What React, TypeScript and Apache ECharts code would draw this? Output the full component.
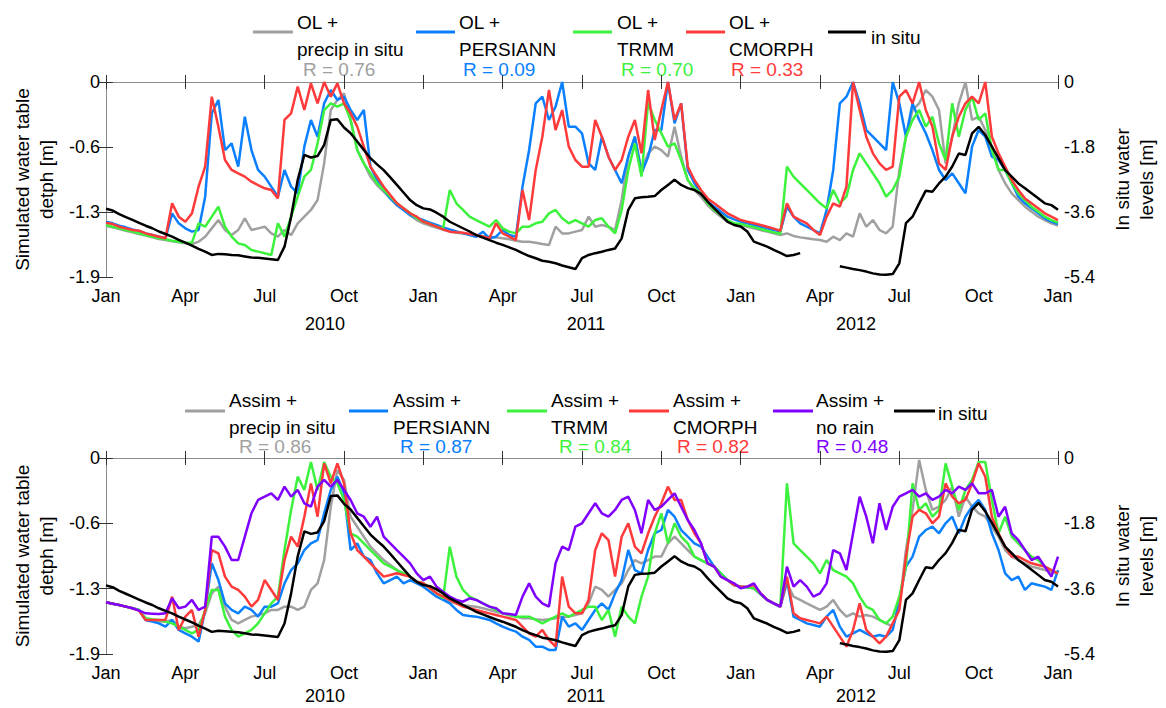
import React, { useEffect, useRef } from "react";
import * as echarts from "echarts";

// time in months since Jan 2010 (quarter-month samples)
const MONTHS = [
  0,0.25,0.5,0.75, 1,1.25,1.5,1.75, 2,2.25,2.5,2.75, 3,3.25,3.5,3.75, 4,4.25,4.5,4.75, 5,5.25,5.5,5.75,
  6,6.25,6.5,6.75, 7,7.25,7.5,7.75, 8,8.25,8.5,8.75, 9,9.25,9.5,9.75, 10,10.25,10.5,10.75, 11,11.25,11.5,11.75,
  12,12.25,12.5,12.75, 13,13.25,13.5,13.75, 14,14.25,14.5,14.75, 15,15.25,15.5,15.75, 16,16.25,16.5,16.75, 17,17.25,17.5,17.75,
  18,18.25,18.5,18.75, 19,19.25,19.5,19.75, 20,20.25,20.5,20.75, 21,21.25,21.5,21.75, 22,22.25,22.5,22.75, 23,23.25,23.5,23.75,
  24,24.25,24.5,24.75, 25,25.25,25.5,25.75, 26,26.25,26.5,26.75, 27,27.25,27.5,27.75, 28,28.25,28.5,28.75, 29,29.25,29.5,29.75,
  30,30.25,30.5,30.75, 31,31.25,31.5,31.75, 32,32.25,32.5,32.75, 33,33.25,33.5,33.75, 34,34.25,34.5,34.75, 35,35.25,35.5,35.75, 36,
];
const MONTH_TICKS = ["Jan", "Apr", "Jul", "Oct"];
const YEARS = ["2010", "2011", "2012"];

// In situ water levels [m] (right axis)
const IN_SITU = [
  -3.51,-3.56,-3.66,-3.74, -3.82,-3.9,-3.98,-4.05, -4.14,-4.21,-4.28,-4.37, -4.45,-4.53,-4.62,-4.7, -4.79,-4.76,-4.77,-4.79, -4.8,-4.83,-4.86,-4.87,
  -4.89,-4.91,-4.93,-4.56, -3.73,-2.71,-2.02,-2.09, -2.05,-1.74,-1.05,-1.03, -1.26,-1.42,-1.65,-1.88, -2.11,-2.28,-2.44,-2.64, -2.85,-3.06,-3.27,-3.41,
  -3.5,-3.53,-3.62,-3.73, -3.87,-3.96,-4.05,-4.14, -4.24,-4.31,-4.38,-4.45, -4.51,-4.58,-4.65,-4.74, -4.82,-4.88,-4.95,-4.98, -5.02,-5.08,-5.13,-5.18,
  -4.88,-4.79,-4.74,-4.7, -4.65,-4.61,-4.33,-3.54, -3.22,-3.19,-3.18,-3.16, -2.99,-2.85,-2.71,-2.85, -2.94,-2.99,-3.1,-3.31, -3.5,-3.68,-3.87,-3.96,
  -4.0,-4.14,-4.42,-4.49, -4.56,-4.65,-4.73,-4.82, -4.79,-4.74,null,null, null,null,null,-5.1, -5.14,-5.18,-5.21,-5.25, -5.3,-5.33,-5.34,-5.32,
  -5.02,-3.91,-3.73,-3.36, -3.01,-3.04,-2.81,-2.62, -2.34,-1.98,-2.02,-1.42, -1.24,-1.47,-1.79,-2.11, -2.44,-2.62,-2.81,-2.94, -3.08,-3.22,-3.36,-3.41, -3.54,
];

// Open loop simulations [m] (left axis)
const OL_PRECIP = [
  -1.403,-1.416,-1.432,-1.449, -1.465,-1.481,-1.497,-1.514, -1.53,-1.54,-1.553,-1.562, -1.572,-1.579,-1.556,-1.507, -1.426,-1.345,-1.442,-1.491, -1.442,-1.328,-1.442,-1.426,
  -1.41,-1.475,-1.507,-1.442, -1.491,-1.377,-1.312,-1.247, -1.15,-0.793,-0.273,-0.175, -0.11,-0.37,-0.663,-0.793, -0.922,-1.004,-1.069,-1.134, -1.199,-1.247,-1.296,-1.345,
  -1.377,-1.4,-1.419,-1.439, -1.458,-1.468,-1.475,-1.484, -1.491,-1.5,-1.507,-1.514, -1.523,-1.533,-1.546,-1.556, -1.556,-1.566,-1.579,-1.589, -1.41,-1.475,-1.475,-1.458,
  -1.442,-1.312,-1.41,-1.393, -1.41,-1.442,-1.15,-0.728, -0.533,-0.857,-0.695,-0.63, -0.663,-0.728,-0.435,-0.728, -0.955,-1.052,-1.117,-1.199, -1.263,-1.312,-1.361,-1.387,
  -1.393,-1.41,-1.426,-1.442, -1.458,-1.475,-1.491,-1.475, -1.5,-1.514,-1.523,-1.533, -1.54,-1.556,-1.507,-1.54, -1.475,-1.507,-1.28,-1.41, -1.345,-1.442,-1.475,-1.41,
  -0.857,-0.533,-0.273,-0.208, -0.078,-0.143,-0.273,-0.793, -0.533,-0.208,0,-0.37, -0.338,-0.468,-0.63,-0.857, -0.987,-1.085,-1.15,-1.215, -1.263,-1.312,-1.345,-1.377, -1.4,
];
const OL_PERSIANN = [
  -1.361,-1.377,-1.4,-1.416, -1.436,-1.452,-1.475,-1.491, -1.507,-1.523,-1.28,-1.377, -1.426,-1.458,-1.442,-1.117, -0.305,-0.175,-0.663,-0.598, -0.825,-0.338,-0.663,-0.857,
  -0.922,-1.02,-1.117,-0.857, -1.02,-1.085,-0.63,-0.37, -0.533,-0.208,-0.078,-0.175, -0.143,-0.273,-0.37,-0.273, -0.825,-0.955,-1.052,-1.134, -1.199,-1.247,-1.296,-1.328,
  -1.345,-1.371,-1.393,-1.416, -1.436,-1.455,-1.475,-1.491, -1.507,-1.458,-1.523,-1.507, -1.442,-1.491,-1.507,-1.02, -0.663,-0.208,-0.143,-0.37, -0.24,0,-0.435,-0.435,
  -0.5,-0.793,-0.857,-0.533, -0.728,-0.857,-0.987,-0.728, -0.533,-0.89,-0.728,-0.468, -0.468,0,-0.403,-0.208, -0.857,-0.987,-1.085,-1.166, -1.215,-1.263,-1.312,-1.338,
  -1.361,-1.377,-1.393,-1.41, -1.426,-1.442,-1.458,-1.215, -1.312,-1.377,-1.41,-1.442, -1.475,-1.247,-0.857,-0.208, -0.143,0,-0.208,-0.468, -0.533,-0.598,-0.663,0,
  -0.208,-0.533,-0.208,-0.37, -0.5,-0.663,-0.857,-0.955, -0.89,-0.987,-1.085,-0.63, -0.468,-0.533,-0.728,-0.76, -0.857,-0.987,-1.117,-1.182, -1.231,-1.28,-1.328,-1.361, -1.384,
];
const OL_TRMM = [
  -1.393,-1.41,-1.426,-1.442, -1.458,-1.475,-1.491,-1.507, -1.523,-1.533,-1.546,-1.556, -1.566,-1.566,-1.377,-1.41, -1.312,-1.215,-1.41,-1.507, -1.572,-1.589,-1.637,-1.653,
  -1.669,-1.686,-1.377,-1.507, -1.312,-1.117,-0.922,-0.857, -0.598,-0.273,-0.208,-0.24, -0.208,-0.37,-0.663,-0.793, -0.89,-0.987,-1.052,-1.117, -1.182,-1.231,-1.28,-1.328,
  -1.361,-1.384,-1.41,-1.426, -1.052,-1.182,-1.247,-1.312, -1.345,-1.377,-1.41,-1.345, -1.426,-1.458,-1.475,-1.41, -1.41,-1.377,-1.361,-1.28, -1.247,-1.328,-1.377,-1.345,
  -1.377,-1.41,-1.345,-1.328, -1.41,-1.475,-1.247,-0.857, -0.598,-0.922,-0.2,-0.37, -0.5,-0.63,-0.598,-0.76, -0.955,-1.036,-1.085,-1.182, -1.247,-1.296,-1.345,-1.377,
  -1.384,-1.4,-1.416,-1.432, -1.449,-1.465,-1.481,-0.825, -0.922,-0.987,-1.052,-1.117, -1.182,-1.231,-1.052,-1.182, -1.117,-0.857,-0.695,-0.793, -0.89,-0.987,-1.117,-1.052,
  -0.922,-0.533,-0.37,-0.273, -0.435,-0.338,-0.598,-0.76, -0.208,-0.533,-0.273,-0.143, -0.37,-0.305,-0.663,-0.857, -0.857,-0.987,-1.085,-1.15, -1.215,-1.263,-1.312,-1.345, -1.371,
];
const OL_CMORPH = [
  -1.371,-1.384,-1.41,-1.426, -1.442,-1.449,-1.475,-1.491, -1.507,-1.523,-1.182,-1.312, -1.361,-1.28,-1.02,-0.825, -0.143,-0.435,-0.76,-0.857, -0.89,-0.922,-0.971,-1.004,
  -1.036,-1.052,-1.134,-0.37, -0.305,-0.045,-0.273,-0.013, -0.208,0,-0.143,-0.013, -0.208,-0.305,-0.435,-0.63, -0.825,-0.922,-1.02,-1.101, -1.182,-1.231,-1.28,-1.312,
  -1.361,-1.384,-1.41,-1.436, -1.458,-1.465,-1.468,-1.481, -1.491,-1.507,-1.523,-1.377, -1.475,-1.507,-1.54,-1.052, -1.345,-0.857,-0.533,-0.078, -0.468,-0.273,-0.63,-0.76,
  -0.825,-0.825,-0.37,-0.533, -0.728,-0.857,-0.76,-0.533, -0.37,-0.695,-0.078,-0.565, -0.273,0,-0.37,-0.208, -0.825,-0.955,-1.052,-1.134, -1.182,-1.231,-1.28,-1.312,
  -1.345,-1.361,-1.377,-1.393, -1.41,-1.429,-1.449,-1.182, -1.312,-1.345,-1.377,-1.442, -1.491,-1.312,-1.182,-1.215, -1.02,0,-0.273,-0.533, -0.695,-0.793,-0.857,-0.825,
  -0.143,-0.078,-0.208,0, -0.273,-0.435,-0.793,-0.857, -0.533,-0.338,-0.208,-0.143, -0.208,0,-0.533,-0.695, -0.825,-0.955,-1.052,-1.134, -1.182,-1.231,-1.28,-1.312, -1.345,
];

// Assimilation runs [m] (left axis)
const AS_PRECIP = [
  -1.399,-1.412,-1.425,-1.441, -1.457,-1.473,-1.57,-1.577, -1.586,-1.586,-1.57,-1.635, -1.651,-1.635,-1.619,-1.506, -1.312,-1.247,-1.441,-1.57, -1.603,-1.57,-1.538,-1.522,
  -1.506,-1.473,-1.473,-1.441, -1.441,-1.473,-1.441,-1.279, -1.215,-0.989,-0.472,-0.116, -0.213,-0.569,-0.666,-0.763, -0.859,-0.924,-0.989,-1.037, -1.086,-1.118,-1.15,-1.199,
  -1.215,-1.263,-1.312,-1.354, -1.393,-1.409,-1.425,-1.435, -1.441,-1.457,-1.473,-1.49, -1.506,-1.522,-1.538,-1.554, -1.554,-1.564,-1.57,-1.564, -1.554,-1.538,-1.538,-1.522,
  -1.506,-1.409,-1.247,-1.279, -1.344,-1.279,-1.215,-1.086, -0.989,-1.021,-0.989,-0.956, -0.956,-0.827,-0.763,-0.827, -0.892,-0.956,-0.989,-1.021, -1.053,-1.118,-1.183,-1.231,
  -1.247,-1.254,-1.263,-1.318, -1.376,-1.409,-1.441,-1.215, -1.344,-1.376,-1.409,-1.441, -1.473,-1.441,-1.376,-1.473, -1.538,-1.506,-1.538,-1.522, -1.538,-1.57,-1.603,-1.635,
  -1.441,-0.892,-0.504,-0.019, -0.31,-0.504,-0.472,-0.407, -0.278,-0.569,-0.375,-0.472, -0.536,-0.569,-0.666,-0.763, -0.892,-0.956,-0.989,-1.021, -1.053,-1.069,-1.086,-1.102, -1.118,
];
const AS_PERSIANN = [
  -1.399,-1.412,-1.425,-1.441, -1.457,-1.473,-1.57,-1.586, -1.603,-1.635,-1.57,-1.667, -1.7,-1.732,-1.78,-1.473, -1.021,-1.183,-1.409,-1.473, -1.506,-1.441,-1.473,-1.538,
  -1.441,-1.441,-1.409,-1.215, -1.086,-1.021,-0.892,-0.827, -0.795,-0.536,-0.31,-0.181, -0.342,-0.892,-0.827,-0.956, -0.989,-1.118,-1.215,-1.183, -1.15,-1.215,-1.183,-1.215,
  -1.247,-1.296,-1.344,-1.376, -1.409,-1.473,-1.522,-1.531, -1.538,-1.554,-1.57,-1.603, -1.635,-1.661,-1.683,-1.732, -1.764,-1.829,-1.829,-1.861, -1.861,-1.538,-1.635,-1.603,
  -1.667,-1.57,-1.473,-1.409, -1.473,-1.312,-1.183,-0.892, -1.086,-1.118,-0.892,-0.73, -0.698,-0.504,-0.569,-0.698, -0.763,-0.827,-0.859,-0.956, -1.053,-1.118,-1.183,-1.231,
  -1.247,-1.254,-1.263,-1.318, -1.376,-1.409,-1.441,-1.183, -1.538,-1.57,-1.603,-1.619, -1.635,-1.538,-1.473,-1.635, -1.732,-1.7,-1.667,-1.7, -1.732,-1.716,-1.732,-1.667,
  -1.376,-1.053,-0.956,-0.763, -0.698,-0.666,-0.73,-0.633, -0.569,-0.73,-0.569,-0.472, -0.407,-0.504,-0.73,-0.892, -1.118,-1.183,-1.15,-1.279, -1.215,-1.231,-1.247,-1.279, -1.086,
];
const AS_TRMM = [
  -1.399,-1.412,-1.425,-1.441, -1.457,-1.473,-1.554,-1.564, -1.57,-1.586,-1.603,-1.635, -1.667,-1.7,-1.667,-1.473, -1.279,-1.279,-1.538,-1.667, -1.732,-1.7,-1.667,-1.603,
  -1.506,-1.409,-1.344,-0.892, -0.504,-0.181,-0.31,-0.039, -0.31,-0.039,-0.181,-0.246, -0.407,-0.73,-0.763,-0.827, -0.892,-0.956,-1.021,-1.053, -1.086,-1.118,-1.15,-1.199,
  -1.215,-1.263,-1.312,-1.36, -0.86,-1.15,-1.279,-1.344, -1.376,-1.409,-1.441,-1.473, -1.506,-1.522,-1.538,-1.538, -1.538,-1.57,-1.603,-1.57, -1.538,-1.506,-1.538,-1.506,
  -1.473,-1.441,-1.441,-1.57, -1.473,-1.732,-1.441,-1.538, -1.603,-1.344,-1.15,-0.73, -0.536,-0.827,-0.633,-0.763, -0.827,-0.956,-0.989,-1.021, -1.053,-1.118,-1.183,-1.231,
  -1.247,-1.254,-1.263,-1.318, -1.376,-1.409,-1.441,-0.246, -0.827,-0.892,-0.956,-1.021, -1.118,-0.989,-1.086,-1.118, -1.15,-1.215,-1.344,-1.441, -1.473,-1.57,-1.603,-1.538,
  -1.344,-1.053,-0.246,-0.504, -0.439,-0.569,-0.504,-0.052, -0.278,-0.504,-0.31,-0.213, -0.039,-0.039,-0.407,-0.73, -0.569,-0.763,-0.827,-0.892, -0.956,-0.989,-1.053,-1.086, -1.118,
];
const AS_CMORPH = [
  -1.399,-1.412,-1.425,-1.441, -1.457,-1.48,-1.57,-1.57, -1.57,-1.57,-1.344,-1.667, -1.538,-1.473,-1.732,-1.473, -0.892,-0.924,-1.15,-1.247, -1.279,-1.344,-1.441,-1.376,
  -1.183,-1.279,-1.376,-0.989, -0.763,-0.859,-0.569,-0.246, -0.569,-0.052,-0.246,-0.052, -0.246,-0.73,-0.892,-0.956, -1.021,-1.086,-1.15,-1.134, -1.118,-1.134,-1.15,-1.199,
  -1.215,-1.263,-1.312,-1.344, -1.376,-1.409,-1.441,-1.457, -1.473,-1.49,-1.506,-1.522, -1.538,-1.554,-1.57,-1.635, -1.7,-1.732,-1.667,-1.764, -1.829,-1.15,-1.441,-1.506,
  -1.506,-1.376,-0.892,-0.73, -0.795,-1.15,-0.763,-0.633, -0.859,-0.924,-0.73,-0.569, -0.439,-0.278,-0.407,-0.407, -0.601,-0.73,-0.827,-1.021, -1.053,-1.15,-1.183,-1.231,
  -1.247,-1.247,-1.231,-1.312, -1.376,-1.409,-1.441,-1.15, -1.506,-1.554,-1.57,-1.586, -1.603,-1.538,-1.635,-1.732, -1.829,-1.667,-1.409,-1.667, -1.732,-1.796,-1.732,-1.603,
  -1.473,-0.956,-0.569,-0.504, -0.536,-0.633,-0.569,-0.246, -0.375,-0.439,-0.407,-0.246, -0.052,-0.181,-0.569,-0.73, -0.859,-0.956,-0.956,-0.989, -1.021,-1.037,-1.053,-1.086, -1.118,
];
const AS_NORAIN = [
  -1.399,-1.412,-1.425,-1.441, -1.457,-1.48,-1.506,-1.509, -1.512,-1.506,-1.36,-1.457, -1.441,-1.376,-1.473,-1.441, -0.763,-0.763,-0.859,-0.989, -0.989,-0.763,-0.536,-0.407,
  -0.375,-0.342,-0.407,-0.278, -0.375,-0.31,-0.439,-0.472, -0.278,-0.213,-0.278,-0.213, -0.31,-0.407,-0.536,-0.569, -0.666,-0.569,-0.763,-0.827, -0.892,-0.956,-1.021,-1.118,
  -1.183,-1.15,-1.247,-1.296, -1.344,-1.376,-1.393,-1.36, -1.376,-1.409,-1.441,-1.457, -1.506,-1.512,-1.522,-1.344, -1.215,-1.344,-1.409,-1.441, -1.021,-0.859,-0.892,-0.666,
  -0.633,-0.536,-0.439,-0.536, -0.569,-0.504,-0.407,-0.375, -0.504,-0.73,-0.407,-0.504, -0.472,-0.407,-0.342,-0.472, -0.601,-0.698,-0.827,-1.021, -1.053,-1.15,-1.183,-1.215,
  -1.263,-1.247,-1.215,-1.312, -1.376,-1.409,-1.441,-1.053, -1.247,-1.183,-1.247,-1.344, -1.312,-1.215,-0.892,-0.924, -1.086,-0.73,-0.375,-0.569, -0.827,-0.439,-0.698,-0.472,
  -0.375,-0.342,-0.31,-0.375, -0.342,-0.407,-0.375,-0.31, -0.342,-0.278,-0.31,-0.246, -0.342,-0.342,-0.31,-0.569, -0.472,-0.73,-0.795,-0.892, -0.989,-0.956,-1.053,-1.15, -0.956,
];

const TOP_LABEL_1 = ["OL +", "OL +", "OL +", "OL +"];
const TOP_LABEL_2 = ["precip in situ", "PERSIANN", "TRMM", "CMORPH"];
const TOP_R = [0.76, 0.09, 0.7, 0.33];
const BOT_LABEL_1 = ["Assim +", "Assim +", "Assim +", "Assim +", "Assim +"];
const BOT_LABEL_2 = ["precip in situ", "PERSIANN", "TRMM", "CMORPH", "no rain"];
const BOT_R = [0.86, 0.87, 0.84, 0.82, 0.48];
const IN_SITU_LABEL = "in situ";

const COLORS = ["#a0a0a0", "#0a80ff", "#3cf23c", "#ff3a3a", "#8000ff"];
const BLACK = "#000000";
const FONT = '"Liberation Sans", Arial, Helvetica, sans-serif';

const pairs = (arr: (number | null)[]) => MONTHS.map((m, i) => [m, arr[i]]);

function fmtLeft(v: number) {
  const r = Math.round(v * 10) / 10;
  return Math.abs(r) < 1e-9 ? "0" : r.toFixed(1);
}

function buildOption() {
  const grids = [
    { left: 106, width: 961, top: 82, height: 195 },
    { left: 106, width: 961, top: 458, height: 196 },
  ];
  const axisLine = { show: true, lineStyle: { color: "#8c8c8c", width: 1 } };
  const axisTick = { show: true, inside: true, length: 7, lineStyle: { color: "#333333", width: 1 } };
  const xAxes: any[] = [];
  const yAxes: any[] = [];
  [0, 1].forEach((g) => {
    xAxes.push({
      type: "value", gridIndex: g, min: 0, max: 36, interval: 3, position: "bottom",
      axisLine, axisTick, splitLine: { show: false },
      axisLabel: {
        color: "#000", fontSize: 18, fontFamily: FONT, margin: 10,
        formatter: (v: number) => MONTH_TICKS[Math.round(v / 3) % 4],
      },
    });
    xAxes.push({
      type: "value", gridIndex: g, min: 0, max: 36, interval: 3, position: "top",
      axisLine, axisTick, splitLine: { show: false }, axisLabel: { show: false },
    });
    yAxes.push({
      type: "value", gridIndex: g, min: -1.9, max: 0, interval: 1.9 / 3, position: "left",
      axisLine, axisTick, splitLine: { show: false },
      axisLabel: { color: "#000", fontSize: 18, fontFamily: FONT, margin: 6, formatter: fmtLeft },
      name: "Simulated water table\ndetph [m]", nameLocation: "middle", nameRotate: 90, nameGap: 48,
      nameTextStyle: { color: "#000", fontSize: 19, fontFamily: FONT, lineHeight: 24 },
    });
    yAxes.push({
      type: "value", gridIndex: g, min: -5.4, max: 0, interval: 1.8, position: "right",
      axisLine, axisTick, splitLine: { show: false },
      axisLabel: { color: "#000", fontSize: 18, fontFamily: FONT, margin: 6, formatter: fmtLeft },
      name: "In situ water\nlevels [m]", nameLocation: "middle", nameRotate: 90, nameGap: 52,
      nameTextStyle: { color: "#000", fontSize: 19, fontFamily: FONT, lineHeight: 24 },
    });
  });

  const line = (name: string, data: any[], color: string, xi: number, yi: number) => ({
    type: "line", name, data, xAxisIndex: xi, yAxisIndex: yi, showSymbol: false, symbol: "none",
    lineStyle: { color, width: 2.5 }, itemStyle: { color }, connectNulls: false, silent: true,
  });

  const topSim = [OL_PRECIP, OL_PERSIANN, OL_TRMM, OL_CMORPH];
  const botSim = [AS_PRECIP, AS_PERSIANN, AS_TRMM, AS_CMORPH, AS_NORAIN];
  const series: any[] = [];
  topSim.forEach((arr, i) => series.push(line(TOP_LABEL_1[i] + " " + TOP_LABEL_2[i], pairs(arr), COLORS[i], 0, 0)));
  series.push(line(IN_SITU_LABEL, pairs(IN_SITU), BLACK, 0, 1));
  botSim.forEach((arr, i) => series.push(line(BOT_LABEL_1[i] + " " + BOT_LABEL_2[i], pairs(arr), COLORS[i], 2, 2)));
  series.push(line(IN_SITU_LABEL, pairs(IN_SITU), BLACK, 2, 3));

  const graphic: any[] = [];
  const txt = (text: string, x: number, y: number, fill = "#000", align = "left", size = 19) => ({
    type: "text", silent: true,
    style: { text, x, y, fill, align, verticalAlign: "middle", font: `${size}px ${FONT}` },
  });
  const seg = (x1: number, x2: number, y: number, stroke: string) => ({
    type: "line", silent: true, shape: { x1, y1: y, x2, y2: y }, style: { stroke, lineWidth: 3 },
  });

  // top legend
  const topLineX = [[253, 293], [416, 455], [573, 612], [686, 725]];
  const topTextX = [297, 459, 617, 729];
  const topRX = [303, 463, 621, 731];
  TOP_LABEL_1.forEach((_, i) => {
    graphic.push(seg(topLineX[i][0], topLineX[i][1], 32, COLORS[i]));
    graphic.push(txt(TOP_LABEL_1[i], topTextX[i], 22.5));
    graphic.push(txt(TOP_LABEL_2[i], topTextX[i], 49.5));
    graphic.push(txt("R = " + TOP_R[i].toFixed(2), topRX[i], 69, COLORS[i]));
  });
  graphic.push(seg(828, 866, 32, BLACK));
  graphic.push(txt(IN_SITU_LABEL, 871, 37));

  // bottom legend
  const botLineX = [[185, 225], [349, 388], [507, 547], [629, 669], [773, 813]];
  const botTextX = [229, 393, 551, 673, 816];
  const botRX = [239, 400, 559, 677, 816];
  BOT_LABEL_1.forEach((_, i) => {
    graphic.push(seg(botLineX[i][0], botLineX[i][1], 411, COLORS[i]));
    graphic.push(txt(BOT_LABEL_1[i], botTextX[i], 400));
    graphic.push(txt(BOT_LABEL_2[i], botTextX[i], 427));
    graphic.push(txt("R = " + BOT_R[i].toFixed(2), botRX[i], 446.5, COLORS[i]));
  });
  graphic.push(seg(894, 935, 411, BLACK));
  graphic.push(txt(IN_SITU_LABEL, 938, 413));

  // year labels
  const yearX = [325, 586, 856];
  YEARS.forEach((y, i) => {
    graphic.push(txt(y, yearX[i], 324, "#000", "center", 18));
    graphic.push(txt(y, yearX[i], 696, "#000", "center", 18));
  });

  return {
    animation: false,
    backgroundColor: "#ffffff",
    textStyle: { fontFamily: FONT },
    grid: grids,
    xAxis: xAxes,
    yAxis: yAxes,
    series,
    graphic,
  };
}

export default function App() {
  const ref = useRef<HTMLDivElement>(null);
  useEffect(() => {
    document.body.style.margin = "0";
    const chart = echarts.init(ref.current as HTMLDivElement, null, { renderer: "svg" });
    chart.setOption(buildOption() as any);
    return () => chart.dispose();
  }, []);
  return <div ref={ref} style={{ width: 1166, height: 708 }} />;
}
